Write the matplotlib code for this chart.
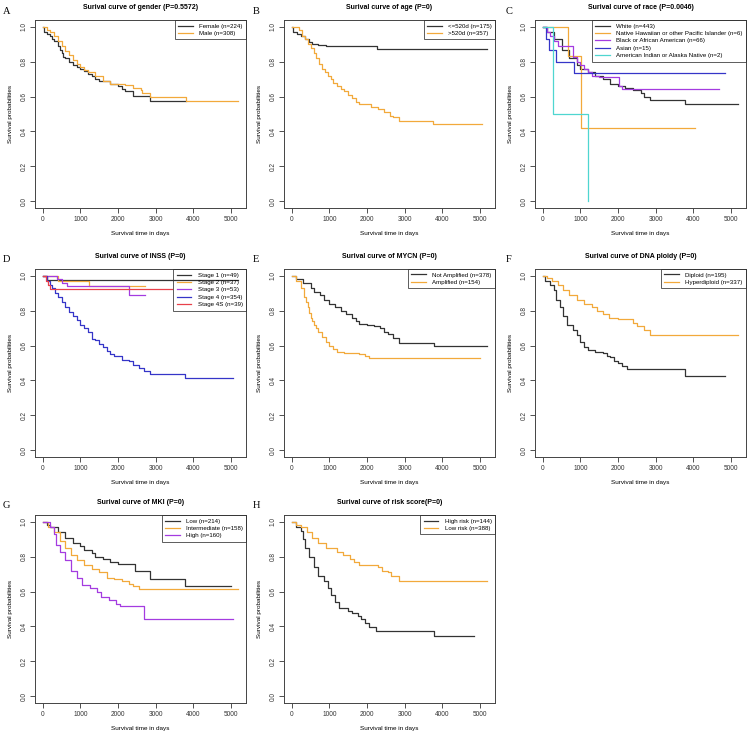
import matplotlib
matplotlib.use('Agg')
import matplotlib.pyplot as plt

plt.rcParams['font.family'] = ['Liberation Sans', 'DejaVu Sans']

BLACK = '#333333'
ORANGE = '#F2A93B'
PURPLE = '#A43BE0'
BLUE = '#3535C8'
CYAN = '#4FD6D0'
RED = '#E8404A'

# A: gender
t_female = [0, 30, 100, 200, 250, 300, 400, 450, 500, 550, 600, 700, 800, 900, 1000, 1100, 1200, 1300, 1400, 1500, 1800, 2000, 2100, 2200, 2400, 2850, 3800]
s_female = [1.0, 0.97, 0.96, 0.95, 0.93, 0.92, 0.89, 0.87, 0.85, 0.83, 0.82, 0.80, 0.78, 0.77, 0.76, 0.745, 0.73, 0.72, 0.70, 0.69, 0.675, 0.66, 0.645, 0.635, 0.605, 0.575, 0.575]
t_male = [0, 100, 200, 300, 400, 500, 600, 700, 800, 900, 1000, 1100, 1200, 1400, 1600, 1800, 2200, 2400, 2600, 2650, 2850, 3800, 5200]
s_male = [1.0, 0.985, 0.97, 0.95, 0.92, 0.89, 0.86, 0.84, 0.81, 0.79, 0.77, 0.75, 0.74, 0.72, 0.69, 0.675, 0.665, 0.65, 0.64, 0.62, 0.60, 0.575, 0.575]

# B: age
t_young = [0, 30, 150, 250, 350, 450, 550, 700, 900, 2280, 5200]
s_young = [1.0, 0.97, 0.96, 0.95, 0.93, 0.915, 0.90, 0.895, 0.89, 0.875, 0.875]
t_old = [0, 200, 280, 350, 430, 500, 580, 650, 730, 800, 880, 950, 1030, 1100, 1200, 1300, 1400, 1500, 1600, 1700, 1800, 1900, 2100, 2300, 2450, 2600, 2700, 2850, 3760, 5050]
s_old = [1.0, 0.98, 0.95, 0.93, 0.905, 0.88, 0.85, 0.82, 0.79, 0.76, 0.74, 0.72, 0.70, 0.68, 0.66, 0.645, 0.63, 0.61, 0.59, 0.57, 0.56, 0.555, 0.54, 0.53, 0.51, 0.49, 0.48, 0.46, 0.44, 0.44]

# C: race
t_white = [0, 100, 300, 500, 700, 900, 1000, 1200, 1400, 1600, 1800, 2000, 2200, 2400, 2600, 2700, 2850, 3780, 5200]
s_white = [1.0, 0.97, 0.93, 0.87, 0.82, 0.78, 0.76, 0.74, 0.72, 0.70, 0.675, 0.66, 0.65, 0.64, 0.62, 0.60, 0.58, 0.56, 0.56]
t_hawaii = [0, 680, 1020, 4050]
s_hawaii = [1.0, 0.833, 0.417, 0.417]
t_afam = [0, 100, 200, 300, 400, 800, 900, 1000, 1100, 1200, 1300, 1500, 2020, 2100, 4700]
s_afam = [1.0, 0.97, 0.95, 0.92, 0.89, 0.83, 0.80, 0.78, 0.76, 0.74, 0.72, 0.71, 0.66, 0.645, 0.645]
t_asian = [0, 80, 170, 350, 830, 4850]
s_asian = [1.0, 0.933, 0.867, 0.80, 0.733, 0.733]
t_amind = [0, 270, 1200]
s_amind = [1.0, 0.5, 0.0]

# D: INSS
t_st1 = [0, 100, 5200]
s_st1 = [1.0, 0.979, 0.979]
t_st2 = [0, 400, 1220, 2720]
s_st2 = [1.0, 0.973, 0.945, 0.945]
t_st3 = [0, 370, 500, 640, 2290, 2720]
s_st3 = [1.0, 0.98, 0.96, 0.943, 0.89, 0.89]
t_st4 = [0, 100, 180, 250, 330, 400, 500, 600, 700, 800, 900, 1000, 1100, 1200, 1300, 1400, 1500, 1600, 1700, 1800, 1900, 2100, 2300, 2400, 2550, 2700, 2850, 3780, 5050]
s_st4 = [1.0, 0.97, 0.95, 0.93, 0.905, 0.88, 0.85, 0.82, 0.795, 0.77, 0.745, 0.72, 0.70, 0.68, 0.64, 0.63, 0.61, 0.59, 0.57, 0.55, 0.54, 0.52, 0.51, 0.49, 0.47, 0.455, 0.435, 0.415, 0.415]
t_st4s = [0, 80, 130, 200, 3430]
s_st4s = [1.0, 0.97, 0.95, 0.923, 0.923]

# E: MYCN
t_notamp = [0, 100, 300, 500, 600, 750, 850, 1000, 1150, 1300, 1450, 1600, 1700, 1800, 2000, 2200, 2350, 2450, 2550, 2700, 2850, 3780, 5200]
s_notamp = [1.0, 0.98, 0.96, 0.93, 0.91, 0.89, 0.86, 0.84, 0.82, 0.80, 0.78, 0.76, 0.74, 0.725, 0.72, 0.71, 0.70, 0.68, 0.665, 0.645, 0.615, 0.595, 0.595]
t_amp = [0, 100, 250, 330, 380, 420, 460, 500, 550, 600, 650, 700, 800, 900, 1000, 1100, 1200, 1400, 1600, 1800, 1950, 2050, 5020]
s_amp = [1.0, 0.97, 0.93, 0.88, 0.85, 0.82, 0.79, 0.76, 0.74, 0.72, 0.70, 0.68, 0.65, 0.62, 0.60, 0.58, 0.565, 0.56, 0.555, 0.55, 0.54, 0.53, 0.53]

# F: DNA ploidy
t_dip = [0, 50, 200, 300, 350, 450, 550, 650, 800, 900, 1000, 1100, 1200, 1400, 1600, 1700, 1800, 1900, 2000, 2100, 2250, 3780, 4850]
s_dip = [1.0, 0.97, 0.95, 0.92, 0.86, 0.82, 0.77, 0.72, 0.69, 0.66, 0.62, 0.59, 0.575, 0.565, 0.555, 0.54, 0.535, 0.51, 0.50, 0.48, 0.465, 0.425, 0.425]
t_hyp = [0, 100, 250, 400, 550, 700, 900, 1100, 1300, 1450, 1600, 1750, 2000, 2200, 2400, 2500, 2700, 2850, 5200]
s_hyp = [1.0, 0.99, 0.97, 0.95, 0.92, 0.89, 0.86, 0.84, 0.82, 0.80, 0.78, 0.76, 0.755, 0.75, 0.73, 0.71, 0.69, 0.66, 0.66]

# G: MKI
t_low = [0, 100, 200, 400, 600, 800, 1000, 1100, 1300, 1400, 1600, 1800, 2000, 2450, 2860, 3780, 5020]
s_low = [1.0, 0.98, 0.97, 0.94, 0.91, 0.88, 0.86, 0.84, 0.82, 0.80, 0.79, 0.77, 0.76, 0.72, 0.67, 0.63, 0.63]
t_int = [0, 150, 300, 450, 600, 750, 900, 1100, 1300, 1500, 1700, 1900, 2100, 2300, 2400, 2550, 5200]
s_int = [1.0, 0.97, 0.94, 0.89, 0.85, 0.81, 0.78, 0.75, 0.73, 0.71, 0.68, 0.67, 0.66, 0.645, 0.63, 0.615, 0.615]
t_high = [0, 200, 300, 350, 450, 600, 750, 900, 1050, 1250, 1450, 1550, 1750, 1950, 2050, 2680, 5060]
s_high = [1.0, 0.97, 0.93, 0.87, 0.83, 0.78, 0.72, 0.68, 0.64, 0.62, 0.60, 0.57, 0.55, 0.53, 0.515, 0.445, 0.445]

# H: risk score
t_hrisk = [0, 100, 250, 300, 350, 450, 600, 700, 850, 950, 1050, 1150, 1250, 1500, 1600, 1750, 1850, 1950, 2050, 2250, 3780, 4850]
s_hrisk = [1.0, 0.97, 0.95, 0.90, 0.85, 0.80, 0.74, 0.69, 0.66, 0.62, 0.58, 0.54, 0.505, 0.49, 0.475, 0.46, 0.44, 0.42, 0.395, 0.375, 0.345, 0.345]
t_lrisk = [0, 100, 250, 400, 550, 700, 900, 1200, 1350, 1550, 1650, 1800, 2100, 2300, 2400, 2550, 2650, 2850, 5200]
s_lrisk = [1.0, 0.985, 0.97, 0.94, 0.91, 0.88, 0.85, 0.83, 0.81, 0.79, 0.77, 0.755, 0.75, 0.74, 0.72, 0.71, 0.69, 0.66, 0.66]

panels = [
    ('A', 'Surival curve of gender (P=0.5572)',
     [('Female (n=224)', BLACK, t_female, s_female), ('Male (n=308)', ORANGE, t_male, s_male)]),
    ('B', 'Surival curve of age (P=0)',
     [('<=520d (n=175)', BLACK, t_young, s_young), ('>520d (n=357)', ORANGE, t_old, s_old)]),
    ('C', 'Surival curve of race (P=0.0046)',
     [('White (n=443)', BLACK, t_white, s_white),
      ('Native Hawaiian or other Pacific Islander (n=6)', ORANGE, t_hawaii, s_hawaii),
      ('Black or African American (n=66)', PURPLE, t_afam, s_afam),
      ('Asian (n=15)', BLUE, t_asian, s_asian),
      ('American Indian or Alaska Native (n=2)', CYAN, t_amind, s_amind)]),
    ('D', 'Surival curve of INSS (P=0)',
     [('Stage 1 (n=49)', BLACK, t_st1, s_st1), ('Stage 2 (n=37)', ORANGE, t_st2, s_st2),
      ('Stage 3 (n=53)', PURPLE, t_st3, s_st3), ('Stage 4 (n=354)', BLUE, t_st4, s_st4),
      ('Stage 4S (n=39)', RED, t_st4s, s_st4s)]),
    ('E', 'Surival curve of MYCN (P=0)',
     [('Not Amplified (n=378)', BLACK, t_notamp, s_notamp), ('Amplified (n=154)', ORANGE, t_amp, s_amp)]),
    ('F', 'Surival curve of DNA ploidy (P=0)',
     [('Diploid (n=195)', BLACK, t_dip, s_dip), ('Hyperdiploid (n=337)', ORANGE, t_hyp, s_hyp)]),
    ('G', 'Surival curve of MKI (P=0)',
     [('Low (n=214)', BLACK, t_low, s_low), ('Intermediate (n=158)', ORANGE, t_int, s_int),
      ('High (n=160)', PURPLE, t_high, s_high)]),
    ('H', 'Surival curve of risk score(P=0)',
     [('High risk (n=144)', BLACK, t_hrisk, s_hrisk), ('Low risk (n=388)', ORANGE, t_lrisk, s_lrisk)]),
]

W, H = 747, 737
fig = plt.figure(figsize=(W / 100, H / 100), dpi=100)

col_left = [35, 284, 535]
row_top = [20, 269, 515]
ax_w, ax_h = 211, 188
letter_x = [3, 253, 506]

for i, (letter, title, curves) in enumerate(panels):
    r, c = divmod(i, 3)
    x0 = col_left[c]
    y0 = row_top[r]
    ax = fig.add_axes([x0 / W, 1 - (y0 + ax_h) / H, ax_w / W, ax_h / H])
    for name, color, t, s in curves:
        ax.step(t, s, where='post', color=color, lw=0.9, label=name)
    ax.set_xlim(-208, 5408)
    ax.set_ylim(-0.04, 1.04)
    ax.set_xticks([0, 1000, 2000, 3000, 4000, 5000])
    ax.set_yticks([0.0, 0.2, 0.4, 0.6, 0.8, 1.0])
    ax.set_yticklabels(['0.0', '0.2', '0.4', '0.6', '0.8', '1.0'], rotation=90, va='center')
    ax.tick_params(labelsize=4.7, length=3.5, width=0.6, pad=2, colors='#333333')
    for sp in ax.spines.values():
        sp.set_linewidth(0.7)
        sp.set_color('#444444')
    ax.set_xlabel('Survival time in days', fontsize=4.6, labelpad=6)
    ax.set_ylabel('Survival probabilities', fontsize=4.6, labelpad=5)
    ax.set_title(title, fontsize=5.0, fontweight='bold', pad=8)
    leg = ax.legend(loc='upper right', fontsize=4.4, frameon=True, fancybox=False,
                    borderaxespad=0, handlelength=2.4, labelspacing=0.35,
                    borderpad=0.55, handletextpad=1.0)
    leg.get_frame().set_facecolor('none')
    leg.get_frame().set_edgecolor('#333333')
    leg.get_frame().set_linewidth(0.7)
    fig.text(letter_x[c] / W, 1 - (y0 - 9) / H, letter, fontsize=7.5,
             family='Liberation Serif', va='center', ha='left')

fig.savefig('out.png', dpi=100)
